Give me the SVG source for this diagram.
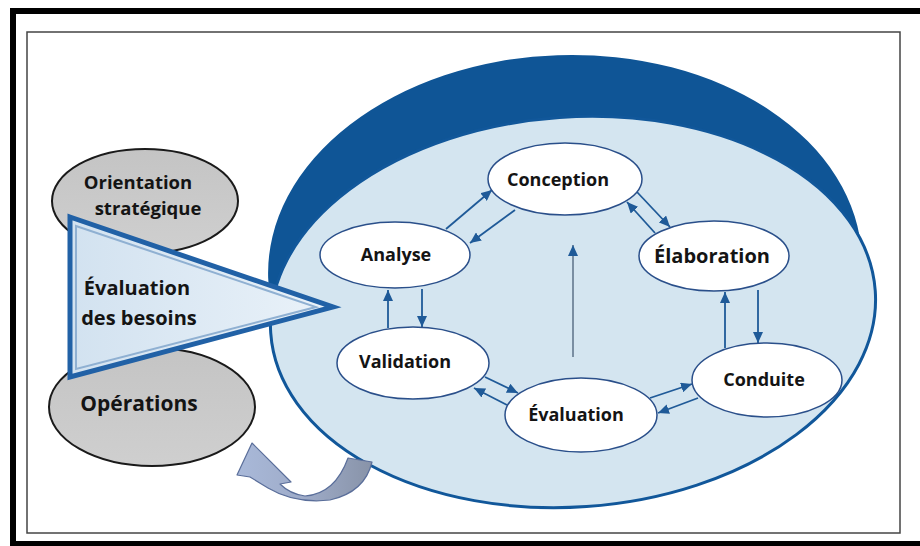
<svg xmlns="http://www.w3.org/2000/svg" width="920" height="546" viewBox="0 0 920 546">
<defs>
<style>
.node{fill:#fff;stroke:#2a4f8a;stroke-width:1.5}
.lbl{font-family:"Open Sans","DejaVu Sans",sans-serif;font-weight:700;fill:#141414;text-anchor:middle}
.gray{fill:url(#gg);stroke:#1a1a1a;stroke-width:2}
.con{stroke:#1f5a98;stroke-width:1.8;fill:none;marker-end:url(#ah)}
</style>
<marker id="ah" markerUnits="userSpaceOnUse" markerWidth="11" markerHeight="10" refX="11" refY="5" orient="auto">
<path d="M0,0 L11,5 L0,10 Z" fill="#1f5a98"/>
</marker>
<linearGradient id="gg" x1="0" y1="0" x2="0" y2="1">
<stop offset="0" stop-color="#c4c4c4"/><stop offset="1" stop-color="#cfcfcf"/>
</linearGradient>
<linearGradient id="tg" x1="0" y1="0" x2="1" y2="0">
<stop offset="0" stop-color="#d2e2f0"/><stop offset="1" stop-color="#eaf2f9"/>
</linearGradient>
<linearGradient id="cg" x1="0" y1="0" x2="1" y2="0">
<stop offset="0" stop-color="#a9b9d9"/><stop offset="0.5" stop-color="#9eabc8"/><stop offset="1" stop-color="#8893a8"/>
</linearGradient>
</defs>
<rect x="0" y="0" width="920" height="546" fill="#fff"/>
<rect x="13" y="11" width="930" height="533" fill="none" stroke="#000" stroke-width="6"/>
<rect x="27" y="32" width="873" height="501" fill="none" stroke="#444" stroke-width="1.5"/>

<g id="cycle-bg">
<ellipse cx="565" cy="268" rx="297" ry="213" transform="rotate(-2 565 268)" fill="#0f5596"/>
<ellipse cx="573" cy="312" rx="303" ry="195" transform="rotate(-4 573 312)" fill="#d4e5f0" stroke="#11579a" stroke-width="3"/>
</g>

<g id="orientation">
<ellipse class="gray" cx="145" cy="201" rx="93" ry="52"/>
<text class="lbl" x="138" y="189" font-size="18.5">Orientation</text>
<text class="lbl" x="148" y="215" font-size="18.5">stratégique</text>
</g>
<g id="operations">
<ellipse class="gray" cx="152" cy="407" rx="103" ry="59"/>
<text class="lbl" x="139" y="411" font-size="21">Opérations</text>
</g>

<g id="besoins">
<polygon points="70,217 333,307 70,377" fill="url(#tg)" stroke="#2161a6" stroke-width="5" stroke-linejoin="miter"/>
<polygon points="76,226 316,307 76,369" fill="none" stroke="#8fb0d2" stroke-width="2"/>
<text class="lbl" x="137" y="295" font-size="20">Évaluation</text>
<text class="lbl" x="139" y="325" font-size="20">des besoins</text>
</g>

<g id="retour">
<path d="M252,443 L291,482 L280,484 Q290,494 305,496 Q335,494 348,458 L372,462 Q365,492 330,500 Q295,504 268,488 L250,477 L237,475 Z" fill="url(#cg)" stroke="#5a6e9a" stroke-width="1.2" stroke-linejoin="round"/>
</g>

<g id="connectors">
<line class="con" x1="446" y1="229" x2="492" y2="190"/>
<line class="con" x1="515" y1="210" x2="470" y2="243"/>
<line class="con" x1="637" y1="192" x2="670" y2="227"/>
<line class="con" x1="655" y1="233" x2="627" y2="202"/>
<line x1="573" y1="357" x2="573" y2="245" stroke="#5d7088" stroke-width="1.5" marker-end="url(#ah)"/>
<line class="con" x1="725" y1="348" x2="725" y2="292"/>
<line class="con" x1="758" y1="290" x2="758" y2="343"/>
<line class="con" x1="388" y1="328" x2="388" y2="290"/>
<line class="con" x1="422" y1="289" x2="422" y2="327"/>
<line class="con" x1="485" y1="377" x2="518" y2="393"/>
<line class="con" x1="507" y1="405" x2="474" y2="388"/>
<line class="con" x1="650" y1="398" x2="692" y2="384"/>
<line class="con" x1="698" y1="398" x2="658" y2="413"/>
</g>

<g id="conception">
<ellipse class="node" cx="565" cy="179" rx="77" ry="36"/>
<text class="lbl" x="558" y="186" font-size="18">Conception</text>
</g>
<g id="elaboration">
<ellipse class="node" cx="714" cy="256" rx="75" ry="35"/>
<text class="lbl" x="712" y="263" font-size="20">Élaboration</text>
</g>
<g id="analyse">
<ellipse class="node" cx="395" cy="255" rx="75" ry="33"/>
<text class="lbl" x="396" y="261" font-size="18">Analyse</text>
</g>
<g id="validation">
<ellipse class="node" cx="413" cy="363" rx="76" ry="36"/>
<text class="lbl" x="405" y="368" font-size="18">Validation</text>
</g>
<g id="evaluation">
<ellipse class="node" cx="581" cy="415" rx="76" ry="37"/>
<text class="lbl" x="576" y="421" font-size="18">Évaluation</text>
</g>
<g id="conduite">
<ellipse class="node" cx="767" cy="380" rx="75" ry="37"/>
<text class="lbl" x="764" y="386" font-size="18">Conduite</text>
</g>
</svg>
